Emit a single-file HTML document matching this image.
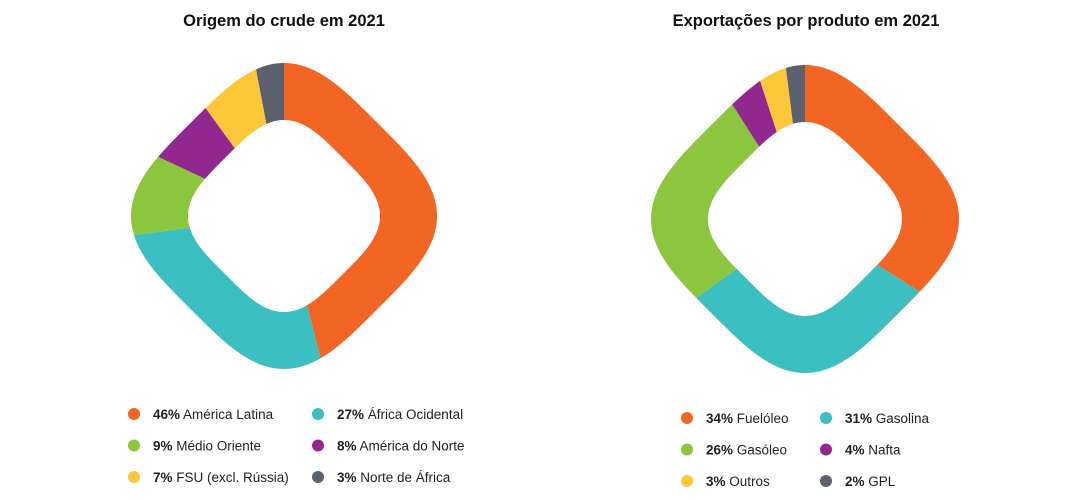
<!DOCTYPE html>
<html><head><meta charset="utf-8">
<style>
body{margin:0;background:#fff;width:1080px;height:500px;overflow:hidden;font-family:"Liberation Sans","DejaVu Sans",sans-serif;}
svg{display:block}
.t{font-weight:bold;font-size:16.5px;fill:#111}
.lg{font-size:13.5px;fill:#222}
.lg tspan.b{font-weight:bold}
</style></head>
<body>
<svg id="c" width="1080" height="500">
<text class="t" x="284" y="26" text-anchor="middle">Origem do crude em 2021</text>
<text class="t" x="806" y="26" text-anchor="middle">Exportações por produto em 2021</text>
</svg>
<script>
const colors=["#f26522","#3bbfc1","#8cc63f","#92278f","#fdc73a","#5b616e"];
const leftLabels=["América Latina","África Ocidental","Médio Oriente","América do Norte","FSU (excl. Rússia)","Norte de África"];
const leftValues=[46,27,9,8,7,3];
const rightLabels=["Fuelóleo","Gasolina","Gasóleo","Nafta","Outros","GPL"];
const rightValues=[34,31,26,4,3,2];
const NS="http://www.w3.org/2000/svg";
const svg=document.getElementById('c');
const N=3.5;
function rad(theta,R){
  // rounded-diamond superellipse, R = axis radius
  const a=R*Math.pow(2,1/N)/Math.SQRT2;
  const phi=theta-Math.PI/4;
  const c=Math.abs(Math.cos(phi)),s=Math.abs(Math.sin(phi));
  return a/Math.pow(Math.pow(c,N)+Math.pow(s,N),1/N);
}
function pt(cx,cy,theta,R){const r=rad(theta,R);return [cx+r*Math.sin(theta),cy-r*Math.cos(theta)];}
function donut(id,cx,cy,Ro,Ri,vals,labels,lx,ly){
  const tot=vals.reduce((a,b)=>a+b,0);
  let acc=0;
  vals.forEach((v,i)=>{
    const a0=acc/tot*2*Math.PI, a1=(acc+v)/tot*2*Math.PI; acc+=v;
    const steps=Math.max(4,Math.ceil((a1-a0)*60));
    let d="";
    for(let k=0;k<=steps;k++){const p=pt(cx,cy,a0+(a1-a0)*k/steps,Ro);d+=(k?"L":"M")+p[0].toFixed(2)+","+p[1].toFixed(2);}
    for(let k=steps;k>=0;k--){const p=pt(cx,cy,a0+(a1-a0)*k/steps,Ri);d+="L"+p[0].toFixed(2)+","+p[1].toFixed(2);}
    const path=document.createElementNS(NS,'path');
    path.setAttribute('d',d+"Z");path.setAttribute('fill',colors[i]);
    
    
    svg.appendChild(path);
    const col=i%2,row=Math.floor(i/2);
    const x=lx[col],y=ly+row*31.5;
    const dot=document.createElementNS(NS,'circle');
    dot.setAttribute('cx',x);dot.setAttribute('cy',y);dot.setAttribute('r',6);dot.setAttribute('fill',colors[i]);
    
    
    svg.appendChild(dot);
    const t=document.createElementNS(NS,'text');
    t.setAttribute('class','lg');t.setAttribute('x',x+19);t.setAttribute('y',y+5);
    t.innerHTML='<tspan class="b">'+v+'%</tspan> '+labels[i];
    
    
    svg.appendChild(t);
  });
}
donut('left',284,216,153,96,leftValues,leftLabels,[134,318],414);
donut('right',805,219,154,97,rightValues,rightLabels,[687,826],418);
</script>
</body></html>
